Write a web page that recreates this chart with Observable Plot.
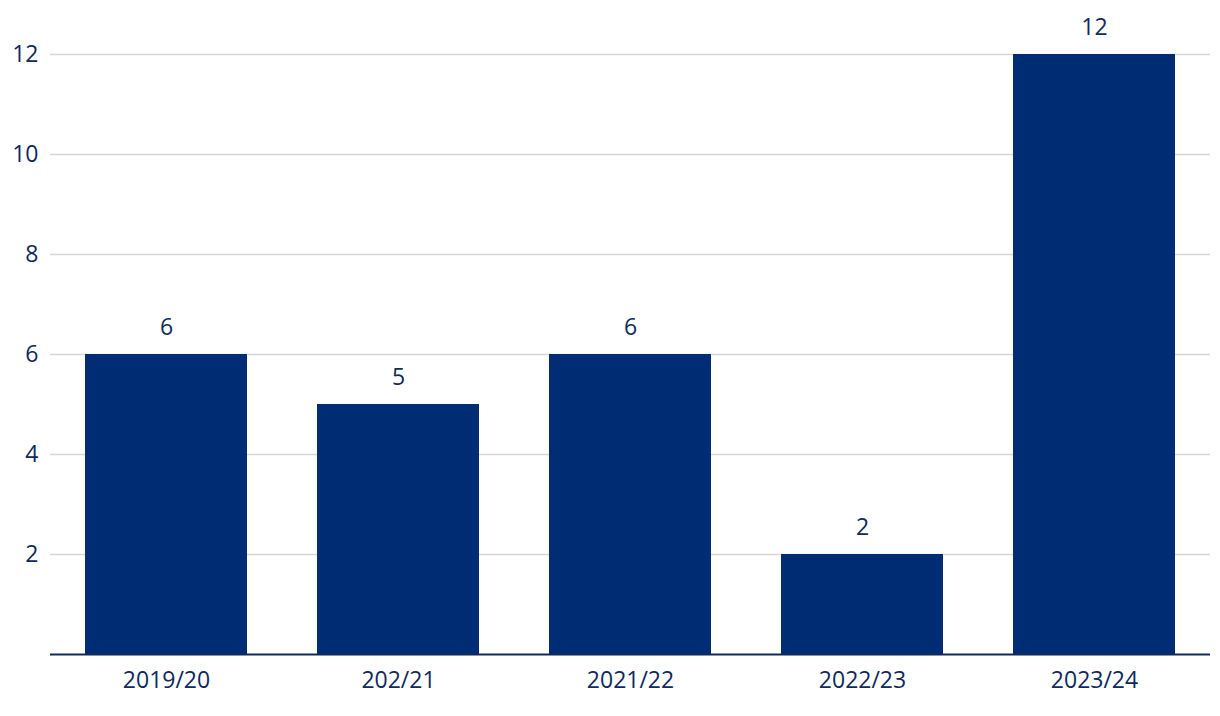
<!DOCTYPE html>
<html>
<head>
<meta charset="utf-8">
<script src="https://cdn.jsdelivr.net/npm/d3@7"></script>
<script src="https://cdn.jsdelivr.net/npm/@observablehq/plot@0.6"></script>
<style>
  html, body { margin: 0; padding: 0; background: #fff; }
  #chart { width: 1220px; height: 716px; }
</style>
</head>
<body>
<div id="chart"></div>
<script>
const categories = ["2019/20", "202/21", "2021/22", "2022/23", "2023/24"];
const values = [6, 5, 6, 2, 12];
const yTicks = [2, 4, 6, 8, 10, 12];

const data = categories.map((c, i) => ({category: c, value: values[i]}));

const navy = "#002c73";
const textColor = "#0f2a5c";

const chart = Plot.plot({
  width: 1220,
  height: 716,
  marginTop: 54,
  marginBottom: 62,
  marginLeft: 50,
  marginRight: 10,
  style: {fontFamily: "'Open Sans', sans-serif", fontSize: "23px", color: textColor, background: "#fff"},
  x: {domain: categories, paddingInner: 0.3, paddingOuter: 0.15, label: null},
  y: {domain: [0, 12], label: null},
  marks: [
    Plot.ruleY(yTicks, {stroke: "#d6d6d6", strokeWidth: 1.5}),
    Plot.barY(data, {x: "category", y: "value", fill: navy}),
    Plot.ruleY([0], {stroke: textColor, strokeWidth: 2}),
    Plot.text(data, {x: "category", y: "value", text: d => String(d.value), dy: -27, fill: textColor, fontSize: 23}),
    Plot.axisY({ticks: yTicks, tickSize: 0, tickPadding: 12, label: null, fill: textColor, fontSize: 23}),
    Plot.axisX({tickSize: 0, tickPadding: 17, label: null, fill: textColor, fontSize: 23})
  ]
});
document.getElementById("chart").appendChild(chart);
</script>
</body>
</html>
